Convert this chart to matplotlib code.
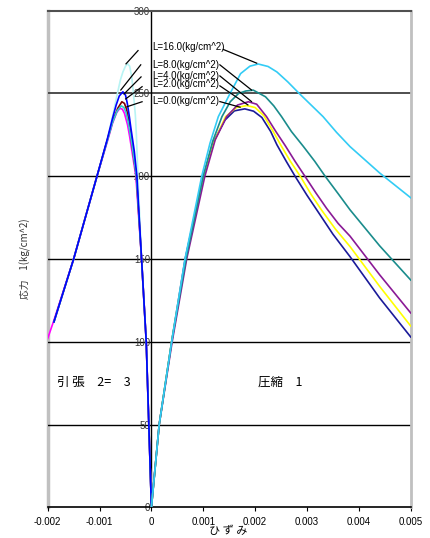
import matplotlib
matplotlib.use('Agg')
import matplotlib.pyplot as plt

plt.rcParams['font.family'] = ['Liberation Sans', 'Noto Sans CJK JP', 'DejaVu Sans']
plt.rcParams['axes.unicode_minus'] = False

# 圧縮側 (x: ひずみ x1e-3, y: 応力)
c_labels = ['L=0.0(kg/cm^2)', 'L=2.0(kg/cm^2)', 'L=4.0(kg/cm^2)', 'L=8.0(kg/cm^2)', 'L=16.0(kg/cm^2)']
c_colors = ['#1a1a99', '#ffff00', '#8a1a96', '#1a8c8c', '#33ccf5']
c_x = [
    [0, 0.15, 0.39, 0.65, 1.0, 1.2, 1.42, 1.6, 1.80, 1.97, 2.13, 2.3, 2.42, 2.6, 2.77, 3.0, 3.19, 3.5, 3.83, 4.4, 5.0],
    [0, 0.15, 0.39, 0.66, 1.01, 1.21, 1.43, 1.64, 1.84, 2.0, 2.17, 2.33, 2.5, 2.68, 2.87, 3.08, 3.28, 3.55, 3.83, 4.4, 5.0],
    [0, 0.15, 0.40, 0.68, 1.03, 1.23, 1.45, 1.66, 1.87, 2.03, 2.22, 2.4, 2.58, 2.77, 2.96, 3.17, 3.38, 3.6, 3.83, 4.4, 5.0],
    [0, 0.15, 0.39, 0.667, 1.0, 1.18, 1.36, 1.52, 1.68, 1.82, 1.965, 2.2, 2.36, 2.51, 2.7, 2.93, 3.15, 3.35, 3.6, 3.83, 4.4, 5.0],
    [0, 0.15, 0.39, 0.648, 0.97, 1.13, 1.29, 1.516, 1.72, 1.9, 2.06, 2.25, 2.42, 2.63, 2.85, 3.08, 3.31, 3.57, 3.83, 4.4, 5.0],
]
c_y = [
    [0, 50, 100, 150, 200, 221, 234, 239.5, 240.7, 239.3, 235.5, 227, 219, 209, 200, 188.5, 179.6, 165, 151.4, 126.5, 102.9],
    [0, 50, 100, 150, 200, 221, 236, 241.5, 242.7, 241.5, 236.5, 228, 218.5, 209, 200, 189, 179.6, 168, 157.5, 133.5, 109.5],
    [0, 50, 100, 150, 200, 222, 236, 243, 245, 243.5, 236, 227, 218.5, 209, 200, 190, 180.5, 171.5, 163.8, 140.5, 117.4],
    [0, 50, 100, 150, 200, 221, 236, 245, 250, 251.5, 252, 248, 242.5, 236, 227, 218, 209, 200, 189.5, 179.7, 158, 137.3],
    [0, 50, 100, 150, 200, 220, 236, 250, 262, 266.5, 267.8, 266.3, 263, 257, 250, 243, 236, 226.5, 217.9, 202, 187],
]

# 引張側 (描画順: L=16, L=0, L=4, L=2, L=8)
t_colors = ['#b8f4f4', '#ff00ff', '#800000', '#33cccc', '#0000ff']
t_x = [
    [-1.88, -1.5, -1.05, -0.85, -0.75, -0.67, -0.60, -0.55, -0.50, -0.46, -0.42, -0.38, -0.35, -0.31, -0.29, -0.26, -0.19, -0.10, -0.05, 0],
    [-2.0, -1.88, -1.5, -1.05, -0.85, -0.75, -0.67, -0.61, -0.56, -0.52, -0.46, -0.42, -0.38, -0.30, -0.19, -0.10, -0.05, 0],
    [-1.88, -1.5, -1.05, -0.85, -0.75, -0.65, -0.57, -0.52, -0.48, -0.45, -0.41, -0.38, -0.29, -0.19, -0.10, -0.05, 0],
    [-1.88, -1.5, -1.05, -0.85, -0.75, -0.66, -0.58, -0.53, -0.49, -0.45, -0.41, -0.37, -0.29, -0.19, -0.10, -0.05, 0],
    [-1.88, -1.5, -1.05, -0.85, -0.75, -0.68, -0.62, -0.55, -0.50, -0.465, -0.43, -0.40, -0.33, -0.28, -0.19, -0.10, -0.05, 0],
]
t_y = [
    [112, 150, 200, 222.5, 236, 248, 258, 263, 266.5, 268, 266.5, 260, 251, 237, 225, 200, 150, 100, 50, 0],
    [102, 113, 150, 200, 221, 232, 238.5, 241, 240.5, 238, 231, 224, 216, 200, 150, 100, 50, 0],
    [112, 150, 200, 222, 233, 241, 245, 244, 240.5, 236, 228.5, 220, 200, 150, 100, 50, 0],
    [112, 150, 200, 221.5, 232.5, 239.5, 242.5, 241.5, 238.5, 233, 226, 218, 200, 150, 100, 50, 0],
    [112, 150, 200, 222.5, 235, 243, 248.5, 251, 249, 244, 237, 230, 215, 200, 150, 100, 50, 0],
]

# ラベル位置と引出線
lab_x = [0.01, 0.01, 0.01, 0.01, 0.01]
lab_y = [245.7, 255.6, 260.8, 267.3, 278]
c_lead = [[(1.32, 245.1), (1.71, 241.7)], [(1.32, 254.6), (1.86, 243.1)], [(1.32, 260.6), (1.93, 245.1)],
          [(1.32, 267.3), (1.93, 252.1)], [(1.385, 276.6), (2.03, 268.3)]]
t_lead = [[(-0.47, 242), (-0.18, 245)], [(-0.496, 246.7), (-0.18, 254.1)], [(-0.528, 249.7), (-0.20, 260)],
          [(-0.59, 252.1), (-0.206, 267.3)], [(-0.49, 267.9), (-0.258, 275.9)]]

xticks = [-0.002, -0.001, 0, 0.001, 0.002, 0.003, 0.004, 0.005]
xticklabels = ['-0.002', '-0.001', '0', '0.001', '0.002', '0.003', '0.004', '0.005']
yticks = [0, 50, 100, 150, 200, 250, 300]

fig = plt.figure(figsize=(4.31, 5.38), dpi=100)
ax = fig.add_axes([0.1107, 0.0571, 0.8422, 0.9230])

for yv in yticks[1:-1]:
    ax.axhline(yv, color='#404040' if yv == 250 else 'black', lw=1.3 if yv == 250 else 1.0, zorder=1)

for i in range(5):
    ax.plot([v * 1e-3 for v in t_x[i]], t_y[i], color=t_colors[i], lw=1.2, zorder=3)
for i in range(5):
    ax.plot([v * 1e-3 for v in c_x[i]], c_y[i], color=c_colors[i], lw=1.2, zorder=3)

for seg in c_lead + t_lead:
    ax.plot([seg[0][0] * 1e-3, seg[1][0] * 1e-3], [seg[0][1], seg[1][1]], color='black', lw=0.9, zorder=4)

for i in range(5):
    ax.text(lab_x[i] * 1e-3, lab_y[i], c_labels[i], fontsize=7, ha='left', va='center', zorder=5)

ax.text(-0.00182, 75.5, '引 張　2=　3', fontsize=9, family=['Noto Sans CJK JP'], ha='left', va='center')
ax.text(0.00206, 75.5, '圧縮　1', fontsize=9, family=['Noto Sans CJK JP'], ha='left', va='center')

ax.set_xlim(-0.002, 0.005)
ax.set_ylim(0, 300)
ax.set_xticks(xticks)
ax.set_xticklabels(xticklabels)
ax.set_yticks(yticks)
ax.tick_params(axis='x', direction='out', length=3, labelsize=7, pad=4, colors='black')
ax.tick_params(axis='y', length=0, labelsize=7, pad=1, labelcolor='#333333')

ax.spines['left'].set_position(('data', 0))
ax.spines['left'].set_color('black')
ax.spines['left'].set_linewidth(1.0)
ax.spines['left'].set_zorder(2)
ax.spines['right'].set_color('#c0c0c0')
ax.spines['right'].set_linewidth(2)
ax.spines['top'].set_color('#505050')
ax.spines['top'].set_linewidth(1.5)
ax.spines['bottom'].set_color('black')
ax.spines['bottom'].set_linewidth(1.2)
ax.axvline(-0.002, color='#c0c0c0', lw=2.5, clip_on=False, zorder=0)

fig.text(25 / 431, 1 - 259 / 538, '応力　1(kg/cm^2)', rotation=90, fontsize=7, color='#333333',
         family=['Noto Sans CJK JP'], ha='center', va='center')
fig.text(228 / 431, 1 - 531 / 538, 'ひ ず み', fontsize=8, family=['Noto Sans CJK JP'], ha='center', va='center')

fig.savefig('out.png', dpi=100)
